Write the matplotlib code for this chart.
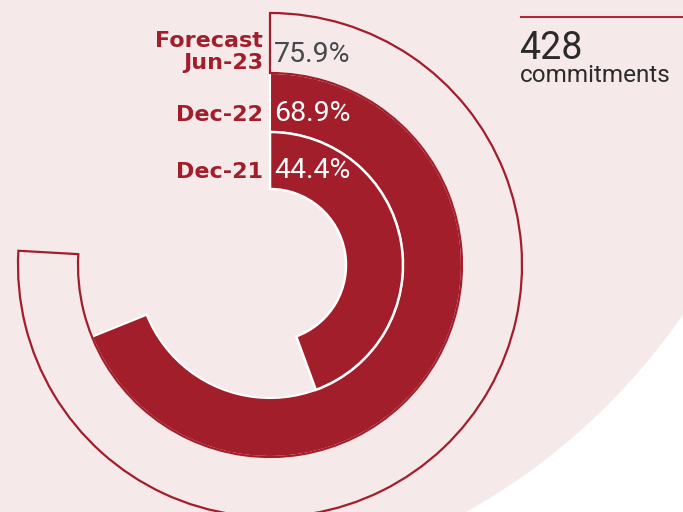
import numpy as np
import matplotlib
matplotlib.use("Agg")
import matplotlib.pyplot as plt
from matplotlib.patches import Circle

# data
periods = ["Dec-21", "Dec-22", "Forecast\nJun-23"]
shares = [44.4, 68.9, 75.9]          # % of commitments
total_commitments = 428

RED = "#a31e2b"
PINK = "#f5e9ea"
W, H = 683, 512

# ring geometry (pixels)
CX, CY = 270, 265
ring_bottoms = [76, 133, 192]
ring_height = [57, 59, 60]
RMAX = 260

fig = plt.figure(figsize=(W / 100, H / 100), dpi=100)
fig.patch.set_facecolor("white")

# background layer in pixel coordinates
bg = fig.add_axes([0, 0, 1, 1])
bg.set_xlim(0, W); bg.set_ylim(H, 0)
bg.axis("off")
bg.add_patch(Circle((151, -52), 646, color=PINK, lw=0, zorder=0))

# polar layer for the rings
pax = fig.add_axes([(CX - RMAX) / W, (H - CY - RMAX) / H, 2 * RMAX / W, 2 * RMAX / H],
                   projection="polar")
pax.set_facecolor("none")
pax.set_theta_zero_location("N")
pax.set_theta_direction(-1)
pax.set_rlim(0, RMAX)
pax.axis("off")

theta = [s / 100 * 2 * np.pi for s in shares]

# forecast: outline ring
pax.bar(0, ring_height[2], width=theta[2], bottom=ring_bottoms[2], align="edge",
        color=PINK, edgecolor="none", zorder=1)
pax.bar(0, ring_height[1], width=theta[1], bottom=ring_bottoms[1], align="edge",
        color=RED, edgecolor="white", lw=1.5, zorder=2)
pax.bar(0, ring_height[0], width=theta[0], bottom=ring_bottoms[0], align="edge",
        color=RED, edgecolor="white", lw=1.8, zorder=3)
pax.bar(0, ring_height[2], width=theta[2], bottom=ring_bottoms[2], align="edge",
        color="none", edgecolor=RED, lw=1.6, zorder=4)

# text layer on top
top = fig.add_axes([0, 0, 1, 1])
top.set_xlim(0, W); top.set_ylim(H, 0)
top.axis("off")
top.patch.set_alpha(0)

pct_colors = ["white", "white", "#45494c"]
for i, (lab, s) in enumerate(zip(periods, shares)):
    base = CY - (ring_bottoms[i] + 11)
    nlines = lab.count("\n") + 1
    top.text(CX - 7, base + 7 * (nlines - 1), lab, ha="right", va="baseline",
             fontsize=16, fontweight="bold", color=RED, family="DejaVu Sans",
             linespacing=1.12)
    top.text(CX + 4, base, f"{s:.1f}%", ha="left", va="baseline", fontsize=20.5,
             fontweight="normal", color=pct_colors[i], family="Roboto")

# side annotation
top.plot([520, W], [17, 17], color="#b02834", lw=1.5, solid_capstyle="butt")
top.text(519, 59, f"{total_commitments}", ha="left", va="baseline", fontsize=27,
         fontweight="normal", color="#2b2b2b", family="Roboto")
top.text(520, 82, "commitments", ha="left", va="baseline", fontsize=17.5,
         color="#2b2b2b", family="Roboto")

fig.savefig("out.png", dpi=100)
